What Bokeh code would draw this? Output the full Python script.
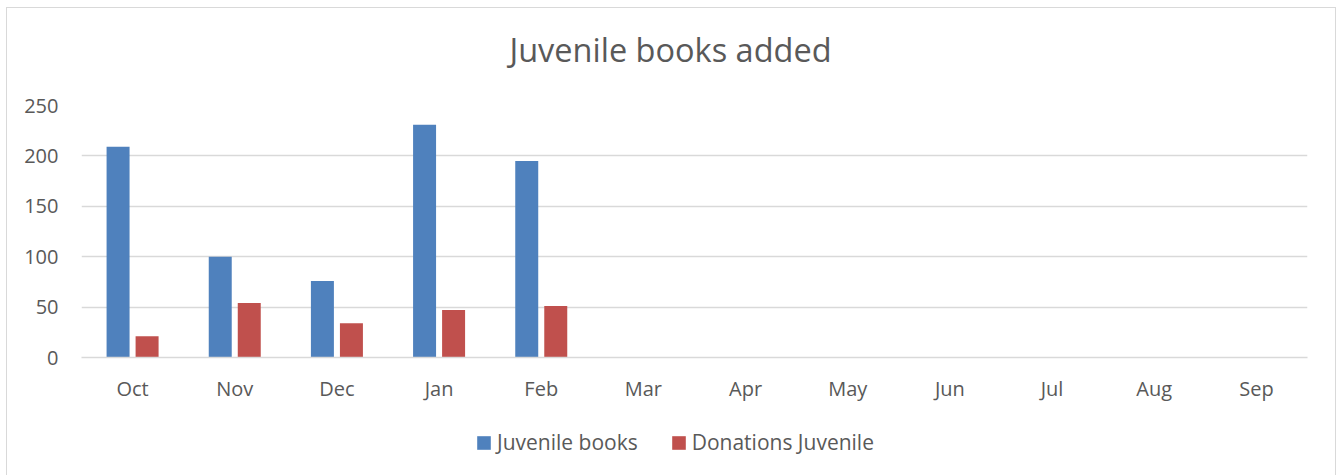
from bokeh.plotting import figure
from bokeh.layouts import column
from bokeh.models import (FactorRange, ColumnDataSource, Legend, LegendItem, Range1d,
                          SingleIntervalTicker, Label)
from bokeh.transform import dodge
from bokeh.embed import file_html
from bokeh.resources import INLINE

months = ["Oct", "Nov", "Dec", "Jan", "Feb", "Mar", "Apr", "May", "Jun", "Jul", "Aug", "Sep"]
juvenile_books = [209, 100, 76, 231, 195, 0, 0, 0, 0, 0, 0, 0]
donations_juvenile = [21, 54, 34, 47, 51, 0, 0, 0, 0, 0, 0, 0]
series_names = ["Juvenile books", "Donations Juvenile"]
chart_title = "Juvenile books added"

FONT = "Open Sans"
GREY = "#595959"
BLUE = "#4F81BD"
RED = "#C0504D"
W = 1328
FRAME_W = 1226  # frames of the stacked figures are aligned by the column layout

# ---- title strip ----
tf = figure(width=W, height=82, x_range=Range1d(0, FRAME_W), y_range=Range1d(0, 82),
            x_axis_type=None, y_axis_type=None, output_backend="svg",
            toolbar_location=None, min_border=0)
tf.outline_line_color = None
tf.add_layout(Label(x=589, y=41, text=chart_title, text_align="center",
                    text_baseline="middle", text_font=FONT, text_font_size="32.5px",
                    text_color=GREY))

# ---- main chart ----
src = ColumnDataSource(dict(month=months, jb=juvenile_books, dj=donations_juvenile))

p = figure(x_range=FactorRange(factors=months, range_padding=0),
           y_range=Range1d(0, 250),
           width=W, height=320, output_backend="svg", toolbar_location=None,
           min_border_left=74, min_border_right=28, min_border_top=15, min_border_bottom=53)

r1 = p.vbar(x=dodge("month", -0.142, range=p.x_range), top="jb", width=0.225,
            source=src, fill_color=BLUE, line_color=None)
r2 = p.vbar(x=dodge("month", 0.142, range=p.x_range), top="dj", width=0.225,
            source=src, fill_color=RED, line_color=None)

p.outline_line_color = None
p.xgrid.grid_line_color = None
p.ygrid.grid_line_color = "#D9D9D9"
p.ygrid.grid_line_width = 1.5
p.yaxis.ticker = SingleIntervalTicker(interval=50)

p.yaxis.axis_line_color = None
p.yaxis.major_tick_line_color = None
p.yaxis.minor_tick_line_color = None
p.yaxis.major_label_text_font = FONT
p.yaxis.major_label_text_font_size = "20px"
p.yaxis.major_label_text_color = GREY
p.yaxis.major_label_standoff = 17

p.xaxis.axis_line_color = "#D9D9D9"
p.xaxis.axis_line_width = 1.5
p.xaxis.major_tick_line_color = None
p.xaxis.minor_tick_line_color = None
p.xaxis.major_label_text_font = FONT
p.xaxis.major_label_text_font_size = "20px"
p.xaxis.major_label_text_color = GREY
p.xaxis.major_label_standoff = 11

# ---- legend strip ----
lf = figure(width=W, height=68, x_range=Range1d(0, 1), y_range=Range1d(0, 1),
            x_axis_type=None, y_axis_type=None, output_backend="svg",
            toolbar_location=None, min_border=0)
lf.outline_line_color = None
# zero-height swatch carriers for the legend (draw nothing themselves)
d1 = lf.vbar(x=[0], top=[0], width=0.01, fill_color=BLUE, line_color=None)
d2 = lf.vbar(x=[0], top=[0], width=0.01, fill_color=RED, line_color=None)
legend = Legend(items=[LegendItem(label=series_names[0], renderers=[d1]),
                       LegendItem(label=series_names[1], renderers=[d2])],
                orientation="horizontal", location=(394, 22),
                label_text_font=FONT, label_text_font_size="21px", label_text_color=GREY,
                glyph_width=17, glyph_height=17, spacing=32, label_standoff=5,
                border_line_color=None, background_fill_alpha=0, margin=0, padding=0)
lf.add_layout(legend, "center")

layout = column(tf, p, lf, spacing=0)
layout.styles = {"margin-left": "6px", "margin-top": "7px", "border": "1px solid #D9D9D9"}

open("out.html", "w").write(file_html(layout, INLINE))
